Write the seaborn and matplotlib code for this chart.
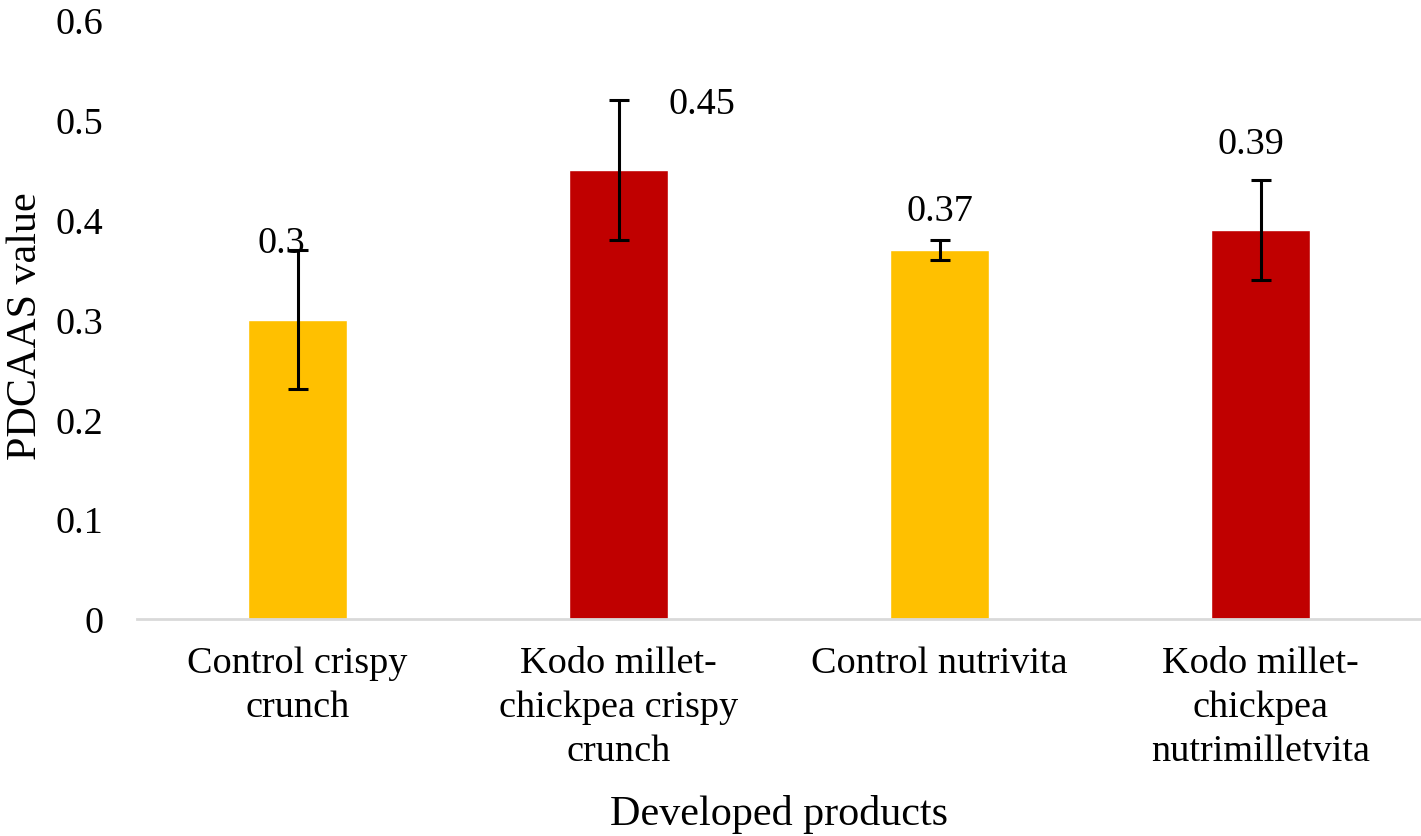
import matplotlib
matplotlib.use("Agg")
import matplotlib.pyplot as plt
import seaborn as sns
import numpy as np
import pandas as pd

categories = ["Control crispy\ncrunch", "Kodo millet-\nchickpea crispy\ncrunch",
              "Control nutrivita", "Kodo millet-\nchickpea\nnutrimilletvita"]
values = [0.30, 0.45, 0.37, 0.39]
errors = [0.07, 0.07, 0.01, 0.05]
value_labels = ["0.3", "0.45", "0.37", "0.39"]
colors = ["#FFC000", "#C00000", "#FFC000", "#C00000"]
yticks = [0, 0.1, 0.2, 0.3, 0.4, 0.5, 0.6]
ytick_labels = ["0", "0.1", "0.2", "0.3", "0.4", "0.5", "0.6"]

# label placement offsets (x in category units, y in data units above the value)
label_dx = [-0.05, 0.26, 0.0, -0.03]
label_dy = [0.077, 0.066, 0.039, 0.086]

FS = 27.5
FS_TITLE = 30.3

sns.set_theme(style="white")
plt.rcParams["font.family"] = ["Liberation Serif", "DejaVu Serif"]
plt.rcParams["text.color"] = "black"
plt.rcParams["axes.labelcolor"] = "black"
plt.rcParams["xtick.color"] = "black"
plt.rcParams["ytick.color"] = "black"

fig = plt.figure(figsize=(14.21, 8.37), dpi=100)
ax = fig.add_axes([137/1421, 217/837, 1 - 137/1421, (620-21)/837])

df = pd.DataFrame({"cat": categories, "val": values})
sns.barplot(data=df, x="cat", y="val", hue="cat", palette=colors, legend=False,
            width=0.31, ax=ax, saturation=1, errorbar=None)

xs = np.arange(len(categories))
ax.errorbar(xs, values, yerr=errors, fmt="none", ecolor="black",
            elinewidth=2.2, capsize=7, capthick=2.2)

for x, v, t, dx, dy in zip(xs, values, value_labels, label_dx, label_dy):
    ax.text(x + dx, v + dy, t, ha="center", va="center", fontsize=FS, color="black")

ax.set_xlim(-0.5, 3.5)
ax.set_ylim(0, 0.6)
ax.set_yticks(yticks)
ax.set_yticklabels(ytick_labels)
ax.tick_params(axis="y", length=0, pad=24, labelsize=FS)
ax.tick_params(axis="x", length=0, pad=19, labelsize=FS)
for lbl in ax.get_xticklabels():
    lbl.set_linespacing(1.37)

for s in ["top", "right", "left"]:
    ax.spines[s].set_visible(False)
ax.spines["bottom"].set_color("#D9D9D9")
ax.spines["bottom"].set_linewidth(2)

ax.set_xlabel("Developed products", fontsize=FS_TITLE, labelpad=18.5)
ax.set_ylabel("PDCAAS value", fontsize=FS_TITLE)
ax.yaxis.set_label_coords(-0.072, 0.491)

fig.savefig("out.png", dpi=100)
